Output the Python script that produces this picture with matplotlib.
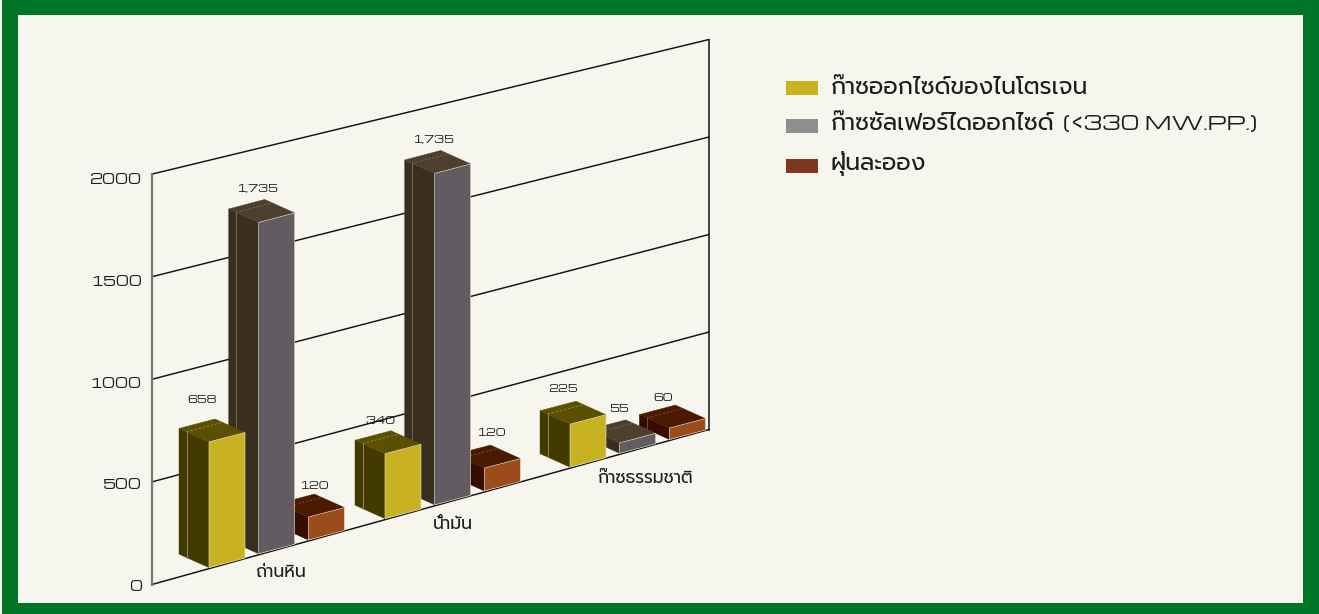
import matplotlib
matplotlib.use("Agg")
import matplotlib.pyplot as plt
from matplotlib.patches import Polygon, Rectangle

# emission figures per fuel
fuels = ["ถ่านหิน", "น้ำมัน", "ก๊าซธรรมชาติ"]
series_names = ["ก๊าซออกไซด์ของไนโตรเจน", "ก๊าซซัลเฟอร์ไดออกไซด์", "ฝุ่นละออง"]
series_notes = ["", "(<330 MW.PP.)", ""]
nox = [658, 340, 225]
so2 = [1735, 1735, 55]
dust = [120, 120, 60]
value_text = [
    ["658", "340", "225"],
    ["1,735", "1,735", "55"],
    ["120", "120", "60"],
]
y_ticks = [0, 500, 1000, 1500, 2000]

FONT = ["Michroma", "Prompt", "DejaVu Sans"]
BG = "#f6f6ee"
GREEN = "#007528"
INK = "#1c1c1c"

# front, side, top shades for each series
shades = [
    ("#c9b222", "#433a00", "#5a5000"),
    ("#625c62", "#3a2e1e", "#4d3f2e"),
    ("#9c4c1a", "#360c00", "#4a1a00"),
]
seams = ["#8f8a55", "#75695a", "#7c4a33"]
legend_colors = ["#c9b222", "#8f8f8f", "#80381c"]

# oblique layout of the chart, in pixels
WALL_L, WALL_R = 152, 709
FLOOR_L, FLOOR_R = 584.5, 429.5
RISE_L, RISE_R = 0.2052, 0.1950
TICK_RISE = 0.2035
BAR_SCALE = 0.191
BAR_W = (36, -9.5)
BAR_D = (-30, -13.5)
GROUP_X = [209, 385, 570]
SERIES_DX = 49.7
LABEL_SHIFT = [
    [(-10, -30), (-8, -21), (-10, -24)],
    [(-5, -22), (-5, -22), (-4, -22)],
    [(2, -20), (3, -24), (-9, -19)],
]
FUEL_SHIFT = [(72, 24), (68, 24), (75, 32)]
LEGEND_Y = [88, 126, 166]
LEGEND_TEXT_Y = [87, 124, 163]


def wall_y(side_floor, rise, value):
    return side_floor - rise * value


def floor_y(x):
    t = (x - WALL_L) / (WALL_R - WALL_L)
    return FLOOR_L + t * (FLOOR_R - FLOOR_L) - 1


def draw_bar(ax, x, value, shade, seam):
    front, side, top = shade
    y = floor_y(x)
    h = value * BAR_SCALE
    wx, wy = BAR_W
    dx, dy = BAR_D
    # left face
    ax.add_patch(Polygon([(x, y), (x, y - h), (x + dx, y - h + dy), (x + dx, y + dy)],
                         fc=side, ec=side, lw=0.3, zorder=3))
    # top face
    ax.add_patch(Polygon([(x, y - h), (x + wx, y - h + wy), (x + wx + dx, y - h + wy + dy),
                          (x + dx, y - h + dy)], fc=top, ec=top, lw=0.3, zorder=3))
    # front face
    ax.add_patch(Polygon([(x, y), (x + wx, y + wy), (x + wx, y + wy - h), (x, y - h)],
                         fc=front, ec="#e8e4d0", lw=0.4, zorder=3))
    # seam that runs down the side and across the top
    sx, sy = x + 0.75 * dx, y + 0.75 * dy
    ax.plot([sx, sx], [sy, sy - h], color=seam, lw=0.7, zorder=3)
    ax.plot([sx, sx + wx], [sy - h, sy - h + wy], color=seam, lw=0.6, ls=(0, (3, 2)), zorder=3)


fig = plt.figure(figsize=(13.19, 6.14), dpi=100, facecolor=GREEN)
ax = fig.add_axes([0, 0, 1, 1])
ax.set_xlim(0, 1319)
ax.set_ylim(614, 0)
ax.axis("off")

ax.add_patch(Rectangle((18, 15), 1285, 588, fc=BG, ec="none", zorder=0))
ax.add_patch(Rectangle((0, 0), 2, 614, fc=BG, ec="none", zorder=0))

# back wall and floor edge
for v in y_ticks:
    ax.plot([WALL_L, WALL_R], [wall_y(FLOOR_L, RISE_L, v), wall_y(FLOOR_R, RISE_R, v)],
            color="#111111", lw=1.05, zorder=1)
    ax.text(142, FLOOR_L + 3 - TICK_RISE * v, str(v), family=FONT, fontsize=9.8,
            color=INK, ha="right", va="center")
ax.plot([WALL_L, WALL_L], [FLOOR_L, wall_y(FLOOR_L, RISE_L, 2000)], color="#777770", lw=1.6, zorder=1)
ax.plot([WALL_R, WALL_R], [FLOOR_R, wall_y(FLOOR_R, RISE_R, 2000)], color="#111111", lw=1.1, zorder=1)

# right to left so nearer bars cover the ones behind
values = [nox, so2, dust]
for g in range(2, -1, -1):
    for s in range(2, -1, -1):
        x = GROUP_X[g] + s * SERIES_DX
        draw_bar(ax, x, values[s][g], shades[s], seams[s])
        # drawn above the bars, shifted off the top face
        cx = x + (BAR_W[0] + BAR_D[0]) / 2
        cy = floor_y(x) - values[s][g] * BAR_SCALE + (BAR_W[1] + BAR_D[1]) / 2
        sx, sy = LABEL_SHIFT[s][g]
        ax.text(cx + sx, cy + sy, value_text[s][g], family=FONT, fontsize=7.5,
                color=INK, ha="center", va="center", zorder=4)

# fuel names under each group
for g, name in enumerate(fuels):
    sx, sy = FUEL_SHIFT[g]
    x = GROUP_X[g] + sx
    ax.text(x, floor_y(x) + sy, name, family=FONT, fontsize=12.5,
            color=INK, ha="center", va="center", zorder=4)

# legend, with the note in the wider latin face and a smaller size
for i, name in enumerate(series_names):
    ax.add_patch(Rectangle((786, LEGEND_Y[i] - 7), 32, 14, fc=legend_colors[i], ec="none"))
    ax.text(831, LEGEND_TEXT_Y[i], name, family=FONT, fontsize=17, color=INK,
            ha="left", va="center")
    if series_notes[i]:
        ax.text(1257, LEGEND_TEXT_Y[i] + 1.5, series_notes[i], family=FONT, fontsize=14,
                color=INK, ha="right", va="center")

fig.savefig("out.png", dpi=100, facecolor=GREEN)
